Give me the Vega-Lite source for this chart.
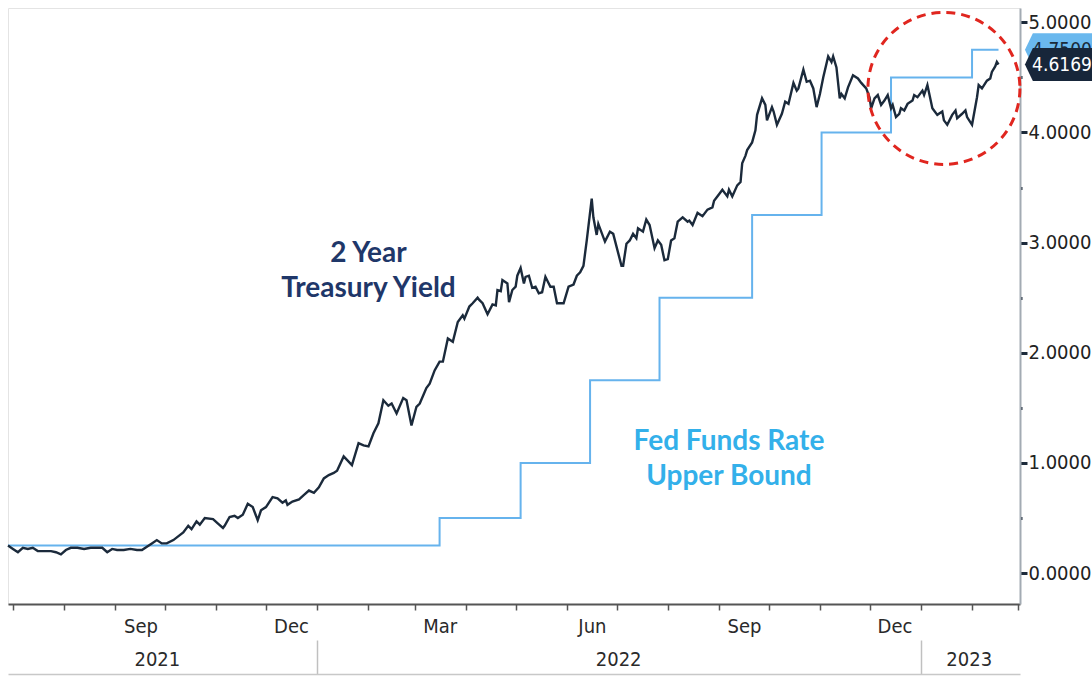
{
  "$schema": "https://vega.github.io/schema/vega-lite/v6.json",
  "width": 1012,
  "height": 596,
  "autosize": {"type": "none"},
  "padding": {"left": 8, "top": 8, "right": 72, "bottom": 73},
  "background": "#ffffff",
  "config": {"view": {"stroke": "#e4e4e4", "strokeWidth": 1}, "axis": {"grid": false}},
  "datasets": {
    "yield": [
      {"date": "2021-06-28", "value": 0.25}, {"date": "2021-07-01", "value": 0.22}, {"date": "2021-07-04", "value": 0.19},
      {"date": "2021-07-07", "value": 0.23}, {"date": "2021-07-10", "value": 0.22}, {"date": "2021-07-13", "value": 0.23},
      {"date": "2021-07-16", "value": 0.20}, {"date": "2021-07-19", "value": 0.20}, {"date": "2021-07-24", "value": 0.20},
      {"date": "2021-07-27", "value": 0.19}, {"date": "2021-07-30", "value": 0.17}, {"date": "2021-08-02", "value": 0.21},
      {"date": "2021-08-05", "value": 0.23}, {"date": "2021-08-09", "value": 0.23}, {"date": "2021-08-13", "value": 0.22},
      {"date": "2021-08-17", "value": 0.23}, {"date": "2021-08-21", "value": 0.23}, {"date": "2021-08-24", "value": 0.23},
      {"date": "2021-08-27", "value": 0.19}, {"date": "2021-08-30", "value": 0.22}, {"date": "2021-09-02", "value": 0.21},
      {"date": "2021-09-06", "value": 0.21}, {"date": "2021-09-10", "value": 0.22}, {"date": "2021-09-14", "value": 0.21},
      {"date": "2021-09-17", "value": 0.21}, {"date": "2021-09-20", "value": 0.24}, {"date": "2021-09-23", "value": 0.27},
      {"date": "2021-09-26", "value": 0.30}, {"date": "2021-09-29", "value": 0.27}, {"date": "2021-10-02", "value": 0.27},
      {"date": "2021-10-06", "value": 0.30}, {"date": "2021-10-12", "value": 0.37}, {"date": "2021-10-15", "value": 0.43},
      {"date": "2021-10-17", "value": 0.40}, {"date": "2021-10-20", "value": 0.47}, {"date": "2021-10-22", "value": 0.44},
      {"date": "2021-10-25", "value": 0.50}, {"date": "2021-10-30", "value": 0.49}, {"date": "2021-11-02", "value": 0.45},
      {"date": "2021-11-05", "value": 0.41}, {"date": "2021-11-06", "value": 0.43}, {"date": "2021-11-09", "value": 0.51},
      {"date": "2021-11-12", "value": 0.52}, {"date": "2021-11-14", "value": 0.50}, {"date": "2021-11-17", "value": 0.53},
      {"date": "2021-11-20", "value": 0.63}, {"date": "2021-11-23", "value": 0.60}, {"date": "2021-11-26", "value": 0.48},
      {"date": "2021-11-28", "value": 0.57}, {"date": "2021-12-01", "value": 0.60}, {"date": "2021-12-05", "value": 0.69},
      {"date": "2021-12-08", "value": 0.68}, {"date": "2021-12-11", "value": 0.64}, {"date": "2021-12-13", "value": 0.66},
      {"date": "2021-12-14", "value": 0.62}, {"date": "2021-12-17", "value": 0.65}, {"date": "2021-12-21", "value": 0.67},
      {"date": "2021-12-24", "value": 0.71}, {"date": "2021-12-27", "value": 0.75}, {"date": "2021-12-30", "value": 0.73},
      {"date": "2022-01-02", "value": 0.78}, {"date": "2022-01-05", "value": 0.86}, {"date": "2022-01-08", "value": 0.89},
      {"date": "2022-01-11", "value": 0.91}, {"date": "2022-01-13", "value": 0.93}, {"date": "2022-01-17", "value": 1.06},
      {"date": "2022-01-22", "value": 0.98}, {"date": "2022-01-26", "value": 1.18}, {"date": "2022-01-29", "value": 1.16},
      {"date": "2022-02-01", "value": 1.15}, {"date": "2022-02-04", "value": 1.27}, {"date": "2022-02-07", "value": 1.36},
      {"date": "2022-02-10", "value": 1.57}, {"date": "2022-02-13", "value": 1.52}, {"date": "2022-02-15", "value": 1.54},
      {"date": "2022-02-18", "value": 1.45}, {"date": "2022-02-22", "value": 1.59}, {"date": "2022-02-24", "value": 1.57},
      {"date": "2022-02-27", "value": 1.34}, {"date": "2022-03-02", "value": 1.51}, {"date": "2022-03-04", "value": 1.54},
      {"date": "2022-03-08", "value": 1.68}, {"date": "2022-03-10", "value": 1.72}, {"date": "2022-03-13", "value": 1.84},
      {"date": "2022-03-16", "value": 1.92}, {"date": "2022-03-18", "value": 1.92}, {"date": "2022-03-21", "value": 2.13},
      {"date": "2022-03-24", "value": 2.10}, {"date": "2022-03-27", "value": 2.28}, {"date": "2022-03-30", "value": 2.34},
      {"date": "2022-03-31", "value": 2.31}, {"date": "2022-04-03", "value": 2.42}, {"date": "2022-04-05", "value": 2.45},
      {"date": "2022-04-08", "value": 2.50}, {"date": "2022-04-09", "value": 2.48}, {"date": "2022-04-11", "value": 2.45},
      {"date": "2022-04-14", "value": 2.35}, {"date": "2022-04-17", "value": 2.44}, {"date": "2022-04-19", "value": 2.43},
      {"date": "2022-04-20", "value": 2.57}, {"date": "2022-04-22", "value": 2.56}, {"date": "2022-04-23", "value": 2.66},
      {"date": "2022-04-26", "value": 2.63}, {"date": "2022-04-27", "value": 2.46}, {"date": "2022-04-29", "value": 2.57},
      {"date": "2022-05-01", "value": 2.60}, {"date": "2022-05-02", "value": 2.70}, {"date": "2022-05-04", "value": 2.77},
      {"date": "2022-05-06", "value": 2.63}, {"date": "2022-05-07", "value": 2.69}, {"date": "2022-05-09", "value": 2.70},
      {"date": "2022-05-11", "value": 2.59}, {"date": "2022-05-13", "value": 2.60}, {"date": "2022-05-15", "value": 2.54},
      {"date": "2022-05-17", "value": 2.55}, {"date": "2022-05-19", "value": 2.69}, {"date": "2022-05-22", "value": 2.60},
      {"date": "2022-05-24", "value": 2.60}, {"date": "2022-05-26", "value": 2.45}, {"date": "2022-05-30", "value": 2.45},
      {"date": "2022-06-02", "value": 2.60}, {"date": "2022-06-05", "value": 2.62}, {"date": "2022-06-07", "value": 2.70},
      {"date": "2022-06-09", "value": 2.73}, {"date": "2022-06-11", "value": 2.79}, {"date": "2022-06-13", "value": 3.02},
      {"date": "2022-06-16", "value": 3.40}, {"date": "2022-06-17", "value": 3.23}, {"date": "2022-06-19", "value": 3.07},
      {"date": "2022-06-20", "value": 3.17}, {"date": "2022-06-24", "value": 3.01}, {"date": "2022-06-27", "value": 3.10},
      {"date": "2022-06-29", "value": 3.08}, {"date": "2022-07-04", "value": 2.79}, {"date": "2022-07-05", "value": 2.79},
      {"date": "2022-07-07", "value": 2.99}, {"date": "2022-07-09", "value": 3.02}, {"date": "2022-07-11", "value": 3.08},
      {"date": "2022-07-13", "value": 3.04}, {"date": "2022-07-14", "value": 3.13}, {"date": "2022-07-17", "value": 3.10},
      {"date": "2022-07-19", "value": 3.21}, {"date": "2022-07-21", "value": 3.16}, {"date": "2022-07-24", "value": 2.95},
      {"date": "2022-07-26", "value": 3.02}, {"date": "2022-07-28", "value": 2.98}, {"date": "2022-07-30", "value": 2.84},
      {"date": "2022-08-01", "value": 2.85}, {"date": "2022-08-03", "value": 3.02}, {"date": "2022-08-05", "value": 3.04},
      {"date": "2022-08-07", "value": 3.19}, {"date": "2022-08-10", "value": 3.23}, {"date": "2022-08-13", "value": 3.19},
      {"date": "2022-08-14", "value": 3.20}, {"date": "2022-08-16", "value": 3.16}, {"date": "2022-08-19", "value": 3.27},
      {"date": "2022-08-22", "value": 3.24}, {"date": "2022-08-25", "value": 3.30}, {"date": "2022-08-28", "value": 3.32},
      {"date": "2022-08-29", "value": 3.38}, {"date": "2022-09-01", "value": 3.44}, {"date": "2022-09-03", "value": 3.48},
      {"date": "2022-09-06", "value": 3.42}, {"date": "2022-09-07", "value": 3.48}, {"date": "2022-09-09", "value": 3.42},
      {"date": "2022-09-12", "value": 3.52}, {"date": "2022-09-14", "value": 3.55}, {"date": "2022-09-15", "value": 3.72},
      {"date": "2022-09-17", "value": 3.79}, {"date": "2022-09-18", "value": 3.84}, {"date": "2022-09-21", "value": 3.91},
      {"date": "2022-09-23", "value": 4.02}, {"date": "2022-09-24", "value": 4.16}, {"date": "2022-09-27", "value": 4.31},
      {"date": "2022-09-29", "value": 4.25}, {"date": "2022-09-30", "value": 4.11}, {"date": "2022-10-03", "value": 4.23},
      {"date": "2022-10-04", "value": 4.19}, {"date": "2022-10-06", "value": 4.07}, {"date": "2022-10-09", "value": 4.17},
      {"date": "2022-10-11", "value": 4.28}, {"date": "2022-10-13", "value": 4.26}, {"date": "2022-10-16", "value": 4.45},
      {"date": "2022-10-18", "value": 4.38}, {"date": "2022-10-19", "value": 4.40}, {"date": "2022-10-22", "value": 4.57},
      {"date": "2022-10-24", "value": 4.46}, {"date": "2022-10-26", "value": 4.47}, {"date": "2022-10-28", "value": 4.40},
      {"date": "2022-10-30", "value": 4.23}, {"date": "2022-11-01", "value": 4.35}, {"date": "2022-11-03", "value": 4.50},
      {"date": "2022-11-06", "value": 4.69}, {"date": "2022-11-08", "value": 4.64}, {"date": "2022-11-09", "value": 4.69},
      {"date": "2022-11-11", "value": 4.59}, {"date": "2022-11-13", "value": 4.31}, {"date": "2022-11-14", "value": 4.35},
      {"date": "2022-11-16", "value": 4.31}, {"date": "2022-11-18", "value": 4.41}, {"date": "2022-11-21", "value": 4.52},
      {"date": "2022-11-24", "value": 4.49}, {"date": "2022-11-26", "value": 4.45}, {"date": "2022-11-29", "value": 4.40},
      {"date": "2022-12-01", "value": 4.32}, {"date": "2022-12-02", "value": 4.22}, {"date": "2022-12-04", "value": 4.31},
      {"date": "2022-12-06", "value": 4.34}, {"date": "2022-12-08", "value": 4.25}, {"date": "2022-12-10", "value": 4.29},
      {"date": "2022-12-12", "value": 4.34}, {"date": "2022-12-14", "value": 4.22}, {"date": "2022-12-15", "value": 4.25},
      {"date": "2022-12-17", "value": 4.14}, {"date": "2022-12-19", "value": 4.17}, {"date": "2022-12-20", "value": 4.22},
      {"date": "2022-12-22", "value": 4.20}, {"date": "2022-12-24", "value": 4.26}, {"date": "2022-12-27", "value": 4.29},
      {"date": "2022-12-28", "value": 4.34}, {"date": "2022-12-30", "value": 4.32}, {"date": "2023-01-02", "value": 4.38},
      {"date": "2023-01-03", "value": 4.34}, {"date": "2023-01-05", "value": 4.43}, {"date": "2023-01-08", "value": 4.22},
      {"date": "2023-01-09", "value": 4.20}, {"date": "2023-01-11", "value": 4.16}, {"date": "2023-01-14", "value": 4.19},
      {"date": "2023-01-15", "value": 4.11}, {"date": "2023-01-17", "value": 4.07}, {"date": "2023-01-20", "value": 4.16},
      {"date": "2023-01-22", "value": 4.20}, {"date": "2023-01-23", "value": 4.13}, {"date": "2023-01-26", "value": 4.17},
      {"date": "2023-01-28", "value": 4.20}, {"date": "2023-01-29", "value": 4.14}, {"date": "2023-02-01", "value": 4.07},
      {"date": "2023-02-04", "value": 4.32}, {"date": "2023-02-05", "value": 4.43}, {"date": "2023-02-07", "value": 4.40},
      {"date": "2023-02-10", "value": 4.47}, {"date": "2023-02-12", "value": 4.49}, {"date": "2023-02-13", "value": 4.55},
      {"date": "2023-02-15", "value": 4.60}, {"date": "2023-02-16", "value": 4.64}, {"date": "2023-02-17", "value": 4.6169}
    ],
    "fed": [
      {"date": "2021-06-28", "value": 0.25}, {"date": "2022-03-16", "value": 0.50}, {"date": "2022-05-04", "value": 1.00},
      {"date": "2022-06-15", "value": 1.75}, {"date": "2022-07-27", "value": 2.50}, {"date": "2022-09-21", "value": 3.25},
      {"date": "2022-11-02", "value": 4.00}, {"date": "2022-12-14", "value": 4.50}, {"date": "2023-02-01", "value": 4.75},
      {"date": "2023-02-17", "value": 4.75}
    ],
    "notes": [
      {"date": "2022-02-01", "value": 2.90, "label": "2 Year\nTreasury Yield", "kind": "yield"},
      {"date": "2022-09-07", "value": 1.19, "label": "Fed Funds Rate\nUpper Bound", "kind": "fed"}
    ],
    "circle": [
      {"date": "2023-01-15", "value": 4.40}
    ],
    "tagfed": [
      {"date": "2023-03-02", "value": 4.75, "label": "4.7500"}
    ],
    "tagyield": [
      {"date": "2023-03-02", "value": 4.6169, "label": "4.6169"}
    ]
  },
  "layer": [
    {
      "data": {"name": "fed"},
      "mark": {"type": "line", "interpolate": "step-after", "color": "#66b3ed", "strokeWidth": 2},
      "encoding": {
        "x": {
          "field": "date", "type": "temporal",
          "scale": {"type": "utc", "domain": [{"year": 2021, "month": 6, "date": 28, "utc": true}, {"year": 2023, "month": 3, "date": 2, "utc": true}]},
          "axis": {
            "orient": "bottom", "title": null, "grid": false,
            "tickCount": {"interval": "month", "step": 1},
            "labelExpr": "(utcmonth(datum.value) % 3 == 2 && datum.value < 1677000000000) ? utcFormat(datum.value, '%b') : ''",
            "labelOffset": 25, "labelAlign": "center", "labelOverlap": false, "labelFlush": false, "labelBound": false,
            "domainColor": "#555555", "domainWidth": 2, "tickColor": "#555555", "tickSize": 6, "tickWidth": 1.5,
            "labelFont": "DejaVu Sans Condensed, Liberation Sans, sans-serif",
            "labelFontSize": 20, "labelColor": "#2a2a2a", "labelPadding": 6
          }
        },
        "y": {
          "field": "value", "type": "quantitative",
          "scale": {"domain": [-0.28, 5.13], "nice": false, "zero": false},
          "axis": {
            "orient": "right", "title": null, "grid": false,
            "values": [0, 0.5, 1, 1.5, 2, 2.5, 3, 3.5, 4, 4.5, 5],
            "labelExpr": "datum.value % 1 == 0 ? format(datum.value, '.4f') : ''",
            "tickSize": {"condition": {"test": "datum.value % 1 != 0", "value": 2}, "value": 7},
            "tickWidth": 3, "tickColor": "#1c2a3a",
            "domainColor": "#a3abb3", "domainWidth": 2,
            "labelFont": "DejaVu Sans Condensed, Liberation Sans, sans-serif",
            "labelFontSize": 20, "labelColor": "#222222", "labelPadding": 1, "labelOverlap": false, "labelBound": false, "labelFlush": false
          }
        }
      }
    },
    {
      "data": {"name": "yield"},
      "mark": {"type": "line", "color": "#1b2a3b", "strokeWidth": 2.4},
      "encoding": {
        "x": {
          "field": "date", "type": "temporal",
          "scale": {"type": "utc", "domain": [{"year": 2021, "month": 6, "date": 28, "utc": true}, {"year": 2023, "month": 3, "date": 2, "utc": true}]},
          "axis": {
            "orient": "bottom", "title": null, "grid": false, "offset": 36,
            "values": [{"year": 2021, "month": 9, "date": 26, "utc": true}, {"year": 2022, "month": 7, "date": 2, "utc": true}, {"year": 2023, "month": 1, "date": 30, "utc": true}],
            "labelExpr": "utcFormat(datum.value, '%Y')",
            "ticks": false, "domain": false, "labelOverlap": false, "labelFlush": false, "labelBound": false,
            "labelFont": "DejaVu Sans Condensed, Liberation Sans, sans-serif",
            "labelFontSize": 20, "labelColor": "#2a2a2a", "labelPadding": 9
          }
        },
        "y": {"field": "value", "type": "quantitative", "scale": {"domain": [-0.28, 5.13], "nice": false, "zero": false}, "axis": null}
      }
    },
    {
      "data": {"name": "circle"},
      "mark": {"type": "point", "shape": "circle", "size": 23104, "filled": false, "stroke": "#e0261f", "strokeWidth": 3, "strokeDash": [9, 6], "opacity": 1},
      "encoding": {
        "x": {
          "field": "date", "type": "temporal",
          "scale": {"type": "utc", "domain": [{"year": 2021, "month": 6, "date": 28, "utc": true}, {"year": 2023, "month": 3, "date": 2, "utc": true}]},
          "axis": {
            "orient": "bottom", "title": null, "grid": false, "offset": 70,
            "values": [{"year": 2022, "month": 1, "date": 1, "utc": true}, {"year": 2023, "month": 1, "date": 1, "utc": true}],
            "labels": false, "domainColor": "#c8c8c8", "domainWidth": 1.5,
            "tickColor": "#c0c0c0", "tickSize": -34, "tickWidth": 1.5
          }
        },
        "y": {"field": "value", "type": "quantitative", "scale": {"domain": [-0.28, 5.13], "nice": false, "zero": false}, "axis": null}
      }
    },
    {
      "data": {"name": "notes"},
      "mark": {"type": "text", "font": "Lato, Open Sans, sans-serif", "fontWeight": "bold", "fontSize": 28, "lineBreak": "\n", "lineHeight": 35, "align": "center", "baseline": "middle"},
      "encoding": {
        "x": {"field": "date", "type": "temporal", "scale": {"type": "utc", "domain": [{"year": 2021, "month": 6, "date": 28, "utc": true}, {"year": 2023, "month": 3, "date": 2, "utc": true}]}, "axis": null},
        "y": {"field": "value", "type": "quantitative", "scale": {"domain": [-0.28, 5.13], "nice": false, "zero": false}, "axis": null},
        "text": {"field": "label"},
        "color": {"field": "kind", "type": "nominal", "scale": {"domain": ["yield", "fed"], "range": ["#1f3769", "#33b0ea"]}, "legend": null}
      }
    },
    {
      "data": {"name": "tagfed"},
      "mark": {"type": "point", "shape": "M0.15,0 L0.39,-0.5 L2.3,-0.5 L2.3,0.5 L0.39,0.5 Z", "size": 4356, "filled": true, "opacity": 1, "strokeWidth": 0, "fill": "#6ab8ee"},
      "encoding": {
        "x": {"field": "date", "type": "temporal", "scale": {"type": "utc", "domain": [{"year": 2021, "month": 6, "date": 28, "utc": true}, {"year": 2023, "month": 3, "date": 2, "utc": true}]}, "axis": null},
        "y": {"field": "value", "type": "quantitative", "scale": {"domain": [-0.28, 5.13], "nice": false, "zero": false}, "axis": null}
      }
    },
    {
      "data": {"name": "tagfed"},
      "mark": {"type": "text", "dx": 42, "align": "center", "baseline": "middle", "font": "DejaVu Sans Condensed, Liberation Sans, sans-serif", "fontSize": 19, "color": "#1a2a3a"},
      "encoding": {
        "x": {"field": "date", "type": "temporal", "scale": {"type": "utc", "domain": [{"year": 2021, "month": 6, "date": 28, "utc": true}, {"year": 2023, "month": 3, "date": 2, "utc": true}]}, "axis": null},
        "y": {"field": "value", "type": "quantitative", "scale": {"domain": [-0.28, 5.13], "nice": false, "zero": false}, "axis": null},
        "text": {"field": "label"}
      }
    },
    {
      "data": {"name": "tagyield"},
      "mark": {"type": "point", "shape": "M0.15,0 L0.39,-0.5 L2.3,-0.5 L2.3,0.5 L0.39,0.5 Z", "size": 4356, "filled": true, "opacity": 1, "strokeWidth": 0, "fill": "#17263a"},
      "encoding": {
        "x": {"field": "date", "type": "temporal", "scale": {"type": "utc", "domain": [{"year": 2021, "month": 6, "date": 28, "utc": true}, {"year": 2023, "month": 3, "date": 2, "utc": true}]}, "axis": null},
        "y": {"field": "value", "type": "quantitative", "scale": {"domain": [-0.28, 5.13], "nice": false, "zero": false}, "axis": null}
      }
    },
    {
      "data": {"name": "tagyield"},
      "mark": {"type": "text", "dx": 42, "align": "center", "baseline": "middle", "font": "DejaVu Sans Condensed, Liberation Sans, sans-serif", "fontSize": 19, "color": "#ffffff"},
      "encoding": {
        "x": {"field": "date", "type": "temporal", "scale": {"type": "utc", "domain": [{"year": 2021, "month": 6, "date": 28, "utc": true}, {"year": 2023, "month": 3, "date": 2, "utc": true}]}, "axis": null},
        "y": {"field": "value", "type": "quantitative", "scale": {"domain": [-0.28, 5.13], "nice": false, "zero": false}, "axis": null},
        "text": {"field": "label"}
      }
    }
  ],
  "resolve": {"axis": {"x": "independent", "y": "independent"}, "scale": {"color": "independent"}}
}
